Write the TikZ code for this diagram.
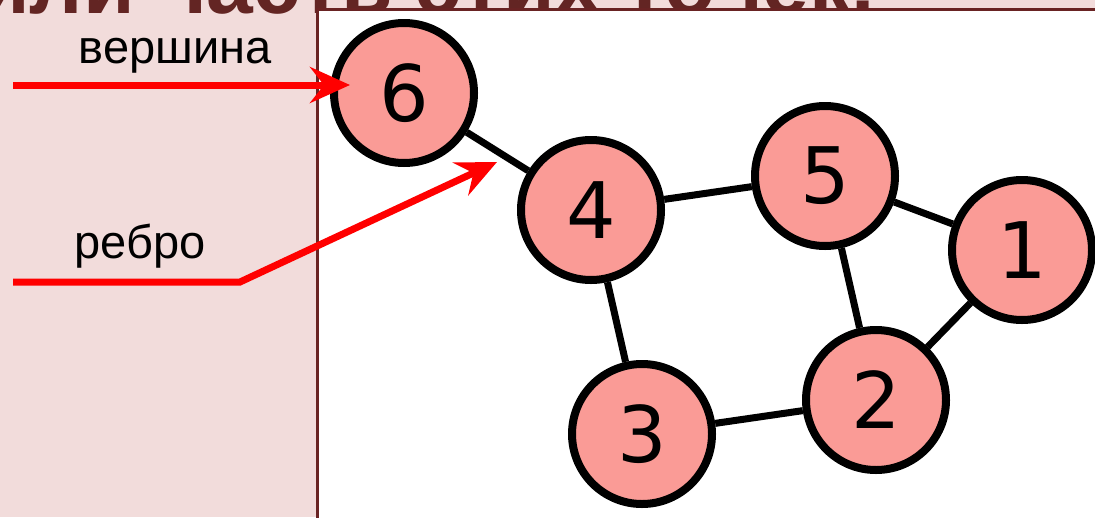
\documentclass[tikz,border=0pt]{standalone}
\usepackage{fontspec}
\setmainfont{Liberation Sans}
\newfontfamily\dejavu{DejaVu Sans}
\usetikzlibrary{arrows.meta}
\definecolor{bgpink}{RGB}{242,220,219}
\definecolor{titlered}{RGB}{99,37,35}
\definecolor{framebrown}{RGB}{105,35,35}
\definecolor{vfill}{RGB}{250,155,150}
\begin{document}
\begin{tikzpicture}[x=1pt,y=-1pt,
  vertex/.style={circle, draw=black, line width=8pt, fill=vfill, minimum size=140pt, inner sep=0pt, font=\dejavu\fontsize{78}{78}\selectfont},
  edge/.style={line width=7pt, black},
  pointer/.style={red, line width=7pt, -{Stealth[length=40pt,width=36pt,inset=14pt]}},
  lbl/.style={font=\fontsize{47}{47}\selectfont, anchor=base, inner sep=0pt}]
\useasboundingbox (0,0) rectangle (1095,517);
\clip (0,0) rectangle (1095,517);
\fill[bgpink] (0,0) rectangle (1095,517);
\node[anchor=base west, inner sep=0pt, text=titlered, font=\bfseries\fontsize{84}{84}\selectfont] (title) at (-22,13) {или часть этих точек.};
\draw[framebrown, line width=3pt, fill=white] (317,9) rectangle (1120,540);
% vertices
\node[vertex] (v6) at (404,93) {6};
\node[vertex] (v4) at (591,210) {4};
\node[vertex] (v5) at (825,176) {5};
\node[vertex] (v1) at (1022,250) {1};
\node[vertex] (v2) at (876,400) {2};
\node[vertex] (v3) at (642,434) {3};
% edges
\draw[edge] (v6) -- (v4);
\draw[edge] (v4) -- (v5);
\draw[edge] (v5) -- (v1);
\draw[edge] (v5) -- (v2);
\draw[edge] (v1) -- (v2);
\draw[edge] (v4) -- (v3);
\draw[edge] (v3) -- (v2);
% labels
\node[lbl] (lv) at (175,63) {вершина};
\node[lbl] (le) at (140,258) {ребро};
% pointers
\coordinate (s1) at (13,85);
\coordinate (t1) at (350,85);
\draw[pointer] (s1) -- (t1);
\coordinate (s2) at (13,282);
\coordinate (k2) at (240,282);
\coordinate (t2) at (497,162);
\draw[pointer] (s2) -- (k2) -- (t2);
\end{tikzpicture}
\end{document}
